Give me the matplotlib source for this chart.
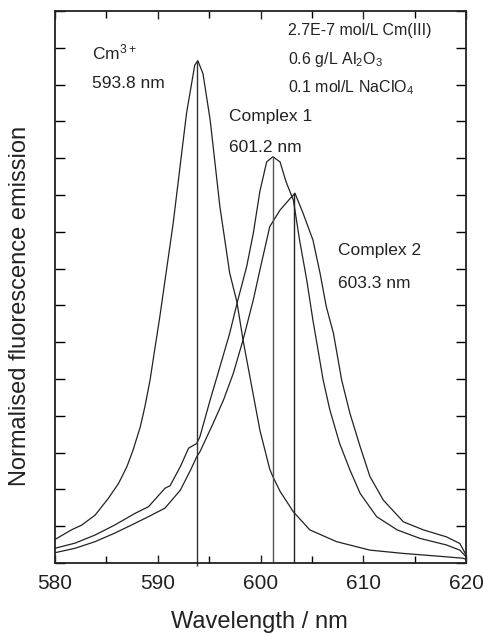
import matplotlib
matplotlib.use("Agg")
import matplotlib.pyplot as plt
from matplotlib.ticker import MultipleLocator, NullFormatter

plt.rcParams['font.family'] = ['Liberation Sans', 'DejaVu Sans']
plt.rcParams['mathtext.default'] = 'regular'

# --- data ---
cm_wl = [580.0, 581.6, 582.6, 583.9, 585.2, 586.2, 587.0, 587.6, 588.3, 588.75,
         589.25, 589.7, 590.2, 591.5, 592.8, 593.6, 593.9, 594.4, 595.1, 596.05,
         597.0, 597.7, 598.3, 598.97, 599.94, 600.9, 601.2, 601.9, 603.2, 604.8,
         607.4, 610.65, 613.9, 617.1, 619.7, 620.0]
cm_val = [0.64, 0.90, 1.03, 1.30, 1.76, 2.17, 2.62, 3.07, 3.70, 4.25,
          4.97, 5.79, 6.69, 9.23, 12.22, 13.53, 13.65, 13.30, 12.04, 9.68,
          7.88, 7.10, 6.06, 5.06, 3.61, 2.55, 2.35, 1.95, 1.39, 0.90,
          0.58, 0.35, 0.26, 0.19, 0.13, 0.10]

c1_wl = [580.0, 581.95, 583.9, 585.8, 587.8, 589.1, 590.7, 591.2, 592.2, 593.0,
         593.8, 594.1, 595.1, 596.05, 597.0, 597.8, 598.65, 599.3, 599.94, 600.6,
         601.2, 601.9, 602.5, 603.2, 603.8, 604.5, 605.1, 606.1, 606.75, 607.7,
         608.7, 609.7, 611.3, 613.3, 615.5, 618.1, 619.4, 620.0]
c1_val = [0.40, 0.54, 0.76, 1.03, 1.35, 1.53, 2.03, 2.10, 2.62, 3.12,
          3.25, 3.43, 4.43, 5.33, 6.24, 7.15, 8.05, 8.96, 10.10, 10.90,
          11.04, 10.90, 10.35, 9.86, 8.78, 7.69, 6.60, 4.97, 4.16, 3.25,
          2.53, 1.89, 1.26, 0.90, 0.67, 0.49, 0.35, 0.17]

c2_wl = [580.0, 581.95, 583.9, 585.8, 587.8, 589.1, 590.7, 592.2, 593.2, 593.8,
         594.1, 595.4, 596.4, 597.35, 598.3, 599.3, 599.94, 600.9, 601.9, 602.9,
         603.35, 604.15, 605.1, 605.8, 606.4, 607.1, 607.9, 608.7, 609.7, 610.65,
         611.95, 613.9, 615.85, 618.1, 619.4, 620.0]
c2_val = [0.28, 0.40, 0.58, 0.81, 1.08, 1.26, 1.49, 1.98, 2.53, 2.89,
          3.02, 3.80, 4.43, 5.15, 6.06, 7.15, 7.96, 9.14, 9.59, 9.91,
          10.05, 9.50, 8.78, 7.87, 6.97, 6.24, 4.97, 4.07, 3.16, 2.35,
          1.71, 1.12, 0.90, 0.71, 0.53, 0.22]

peak_wl = [593.8, 601.2, 603.3]
peak_val = [13.65, 11.04, 10.05]
peak_names = ["Cm$^{3+}$", "Complex 1", "Complex 2"]
peak_labels = ["593.8 nm", "601.2 nm", "603.3 nm"]
conditions = ["2.7E-7 mol/L Cm(III)", "0.6 g/L Al$_2$O$_3$", "0.1 mol/L NaClO$_4$"]

x_ticks = [580, 590, 600, 610, 620]

W, H = 483, 637
fig = plt.figure(figsize=(W / 100, H / 100), dpi=100)
ax = fig.add_axes([55 / W, 1 - 563 / H, (466 - 55) / W, (563 - 11) / H])

lc = '#222222'
ax.plot(cm_wl, cm_val, color=lc, lw=0.9)
ax.plot(c1_wl, c1_val, color=lc, lw=0.9)
ax.plot(c2_wl, c2_val, color=lc, lw=0.9)
ax.vlines(peak_wl[0], -0.08, peak_val[0], color='#333333', lw=1.0, clip_on=False)
ax.vlines(peak_wl[1], 0, peak_val[1], color='#555555', lw=1.0)
ax.vlines(peak_wl[2], 0, peak_val[2], color='#222222', lw=1.0)

ax.set_xlim(580, 620)
ax.set_ylim(0, 15)
ax.set_xticks(x_ticks)
ax.xaxis.set_minor_locator(MultipleLocator(5))
ax.yaxis.set_major_locator(MultipleLocator(1))
ax.yaxis.set_major_formatter(NullFormatter())
ax.tick_params(axis='x', which='major', direction='in', length=6, width=1,
               top=True, labelsize=15, pad=8, colors='#222222')
ax.tick_params(axis='x', which='minor', direction='in', length=5, width=1, top=True)
ax.tick_params(axis='y', which='major', direction='in', length=7, width=1, right=True)
for s in ax.spines.values():
    s.set_linewidth(1.3)
    s.set_color('#222222')

ax.set_xlabel("Wavelength / nm", fontsize=17, color='#222222')
ax.set_ylabel("Normalised fluorescence emission", fontsize=17, color='#222222')
ax.xaxis.set_label_coords(0.4976, (563 - 622) / 552)
ax.yaxis.set_label_coords((20 - 55) / 411, (563 - 306) / 552)
ax.xaxis.label.set_va('center')
ax.yaxis.label.set_va('center')

def px(x, y):
    return ((x - 55) / (466 - 55), (563 - y) / (563 - 11))

tk = dict(transform=ax.transAxes, fontsize=12.5, color='#222222', va='center', ha='left')
ax.text(*px(92, 52), peak_names[0], **tk)
ax.text(*px(92, 84), peak_labels[0], **tk)
ax.text(*px(229, 116), peak_names[1], **tk)
ax.text(*px(229, 148), peak_labels[1], **tk)
ax.text(*px(338, 250), peak_names[2], **tk)
ax.text(*px(338, 283), peak_labels[2], **tk)

tk2 = dict(transform=ax.transAxes, fontsize=11.5, color='#222222', va='center', ha='left')
for i, c in enumerate(conditions):
    ax.text(*px(288, 31 + 28.5 * i), c, **tk2)

fig.savefig("out.png", dpi=100)
